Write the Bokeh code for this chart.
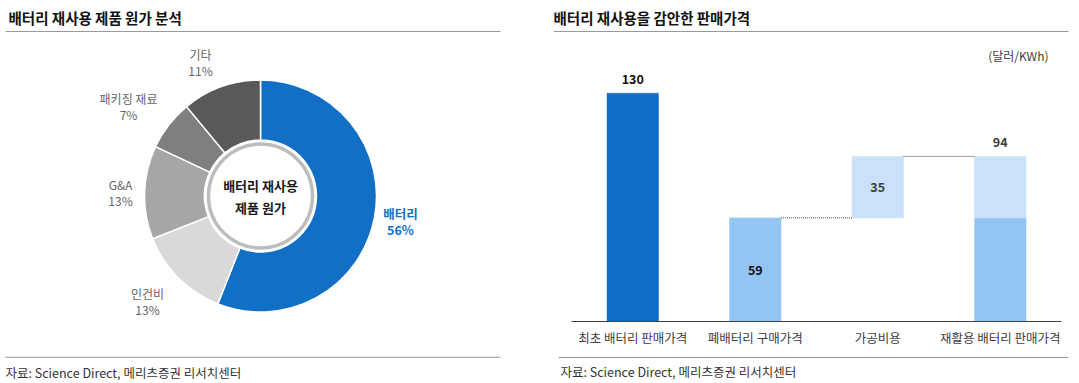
import math
from bokeh.plotting import figure
from bokeh.layouts import row
from bokeh.models import Label, BoxAnnotation, Range1d, FactorRange, ColumnDataSource
from bokeh.core.properties import value
from bokeh.embed import file_html
from bokeh.resources import INLINE

FONT = "Noto Sans CJK KR"

# ---------------- data ----------------
cost_items = ["배터리", "인건비", "G&A", "패키징 재료", "기타"]
cost_shares = [56, 13, 13, 7, 11]

price_categories = ["최초 배터리 판매가격", "폐배터리 구매가격", "가공비용", "재활용 배터리 판매가격"]
initial_price = 130
used_battery_price = 59
processing_cost = 35
recycled_price = 94

# ---------------- styles / layout ----------------
cost_colors = ["#1170C5", "#D9D9D9", "#A6A6A6", "#7F7F7F", "#595959"]
label_pos = [(140, -25), (-113, -105), (-140, 4), (-132, 90), (-60, 134)]
DARK_BLUE = "#0F6EC5"
MID_BLUE = "#93C5F4"
LIGHT_BLUE = "#C9E2FA"
RULE = "#9A9A9A"
H = 383
LW, RW = 553, 526


def rule(fig, left, right, y, color=RULE):
    fig.add_layout(BoxAnnotation(left=left, right=right, bottom=y - 0.5, top=y + 0.5,
                                 left_units="screen", right_units="screen",
                                 top_units="screen", bottom_units="screen",
                                 fill_color=color, fill_alpha=1, line_alpha=0))


def label(fig, x, y, text, size="12px", color="#333333", bold=False, align="left"):
    fig.add_layout(Label(x=x, y=y, x_units="screen", y_units="screen", text=text,
                         text_font=FONT, text_font_size=size, text_color=color,
                         text_font_style="bold" if bold else "normal",
                         text_align=align, text_baseline="middle"))


# ---------------- left: donut ----------------
total = sum(cost_shares)
starts, ends = [], []
acc = 0
for v in cost_shares:
    starts.append(math.pi / 2 - 2 * math.pi * acc / total)
    acc += v
    ends.append(math.pi / 2 - 2 * math.pi * acc / total)

left = figure(width=LW, height=H, x_range=Range1d(-260, LW - 260), y_range=Range1d(-187.5, H - 187.5),
              output_backend="svg", toolbar_location=None, min_border=0,
              x_axis_location=None, y_axis_location=None)
left.outline_line_color = None
left.grid.visible = False

wsrc = ColumnDataSource(dict(start=starts, end=ends, color=cost_colors))
left.annular_wedge(x=0, y=0, inner_radius=56, outer_radius=116,
                   inner_radius_units="screen", outer_radius_units="screen",
                   start_angle="start", end_angle="end", direction="clock",
                   fill_color="color", line_color="white", line_width=1.5, source=wsrc)
left.scatter(x=[0], y=[0], size=104, fill_color="white", line_color="#BDBDBD", line_width=3.5)

left.text(x=[0, 0], y=[10.5, -11.5], text=["배터리 재사용", "제품 원가"],
          text_font=value(FONT), text_font_size="13px", text_font_style="bold",
          text_color="#1A1A1A", text_align="center", text_baseline="middle")

names_x = [p[0] for p in label_pos]
names_y = [p[1] + 8 for p in label_pos]
pct_y = [p[1] - 8 for p in label_pos]
pcts = [f"{v}%" for v in cost_shares]
left.text(x=names_x[1:], y=names_y[1:], text=cost_items[1:], text_font=value(FONT),
          text_font_size="12px", text_color="#666666", text_align="center", text_baseline="middle")
left.text(x=names_x[1:], y=pct_y[1:], text=pcts[1:], text_font=value(FONT),
          text_font_size="12px", text_color="#666666", text_align="center", text_baseline="middle")
left.text(x=names_x[:1], y=names_y[:1], text=cost_items[:1], text_font=value(FONT),
          text_font_size="12.5px", text_font_style="bold", text_color=cost_colors[0],
          text_align="center", text_baseline="middle")
left.text(x=names_x[:1], y=pct_y[:1], text=pcts[:1], text_font=value(FONT),
          text_font_size="12.5px", text_font_style="bold", text_color=cost_colors[0],
          text_align="center", text_baseline="middle")

label(left, 8, H - 17, "배터리 재사용 제품 원가 분석", size="14.5px", color="#111111", bold=True)
rule(left, 5, 500, H - 31)
rule(left, 5, 500, H - 356.7)
label(left, 5, H - 371.5, "자료: Science Direct, 메리츠증권 리서치센터", size="12.5px", color="#333333")

# ---------------- right: waterfall ----------------
px_per_unit = 281 / 160
baseline_px = 321
right = figure(width=RW, height=H,
               x_range=FactorRange(factors=price_categories, range_padding=0.0735),
               y_range=Range1d(-(H - baseline_px) / px_per_unit, baseline_px / px_per_unit),
               output_backend="svg", toolbar_location=None, min_border=0,
               x_axis_location=None, y_axis_location=None)
right.outline_line_color = None
right.grid.visible = False

c0, c1, c2, c3 = price_categories
bars = ColumnDataSource(dict(
    x=[c0, c1, c2, c3, c3],
    bottom=[0, 0, used_battery_price, 0, used_battery_price],
    top=[initial_price, used_battery_price, used_battery_price + processing_cost,
         used_battery_price, recycled_price],
    color=[DARK_BLUE, MID_BLUE, LIGHT_BLUE, MID_BLUE, LIGHT_BLUE],
))
right.vbar(x="x", bottom="bottom", top="top", width=0.42, fill_color="color",
           line_color="color", line_width=0.5, source=bars)

# baseline (category axis line)
right.segment(x0=[(c0, -0.5)], y0=[0], x1=[(c3, 0.5)], y1=[0], line_color="#404040", line_width=1)
# category labels
right.text(x=price_categories, y=[0] * len(price_categories), text=price_categories,
           text_font=value(FONT), text_font_size="12.5px", text_color="#404040",
           text_align="center", text_baseline="middle", y_offset=16)

right.segment(x0=[(c1, 0.21), (c2, 0.21)], y0=[used_battery_price, recycled_price],
              x1=[(c2, -0.21), (c3, -0.21)], y1=[used_battery_price, recycled_price],
              line_color="#404040", line_width=1, line_dash="1 1")

right.text(x=[c0, c3], y=[initial_price, recycled_price], text=[str(initial_price), str(recycled_price)],
           text_font=value(FONT), text_font_size="12.5px", text_font_style="bold",
           text_color=["#111111", "#404040"], text_align="center", text_baseline="middle",
           y_offset=-14)
right.text(x=[c1, c2], y=[used_battery_price / 2, used_battery_price + processing_cost / 2],
           text=[str(used_battery_price), str(processing_cost)],
           text_font=value(FONT), text_font_size="12.5px", text_font_style="bold",
           text_color=["#111111", "#404040"], text_align="center", text_baseline="middle")

X0 = 1079 - RW
label(right, 552 - X0 + 1, H - 17, "배터리 재사용을 감안한 판매가격", size="14.5px", color="#111111", bold=True)
rule(right, 0, 1068 - X0, H - 31)
label(right, 1048 - X0, H - 55, "(달러/KWh)", size="12px", color="#404040", align="right")
rule(right, 558 - X0, 1068 - X0, H - 357)
label(right, 560 - X0, H - 371, "자료: Science Direct, 메리츠증권 리서치센터", size="12.5px", color="#333333")

layout = row(left, right)
open("out.html", "w").write(file_html(layout, INLINE))
